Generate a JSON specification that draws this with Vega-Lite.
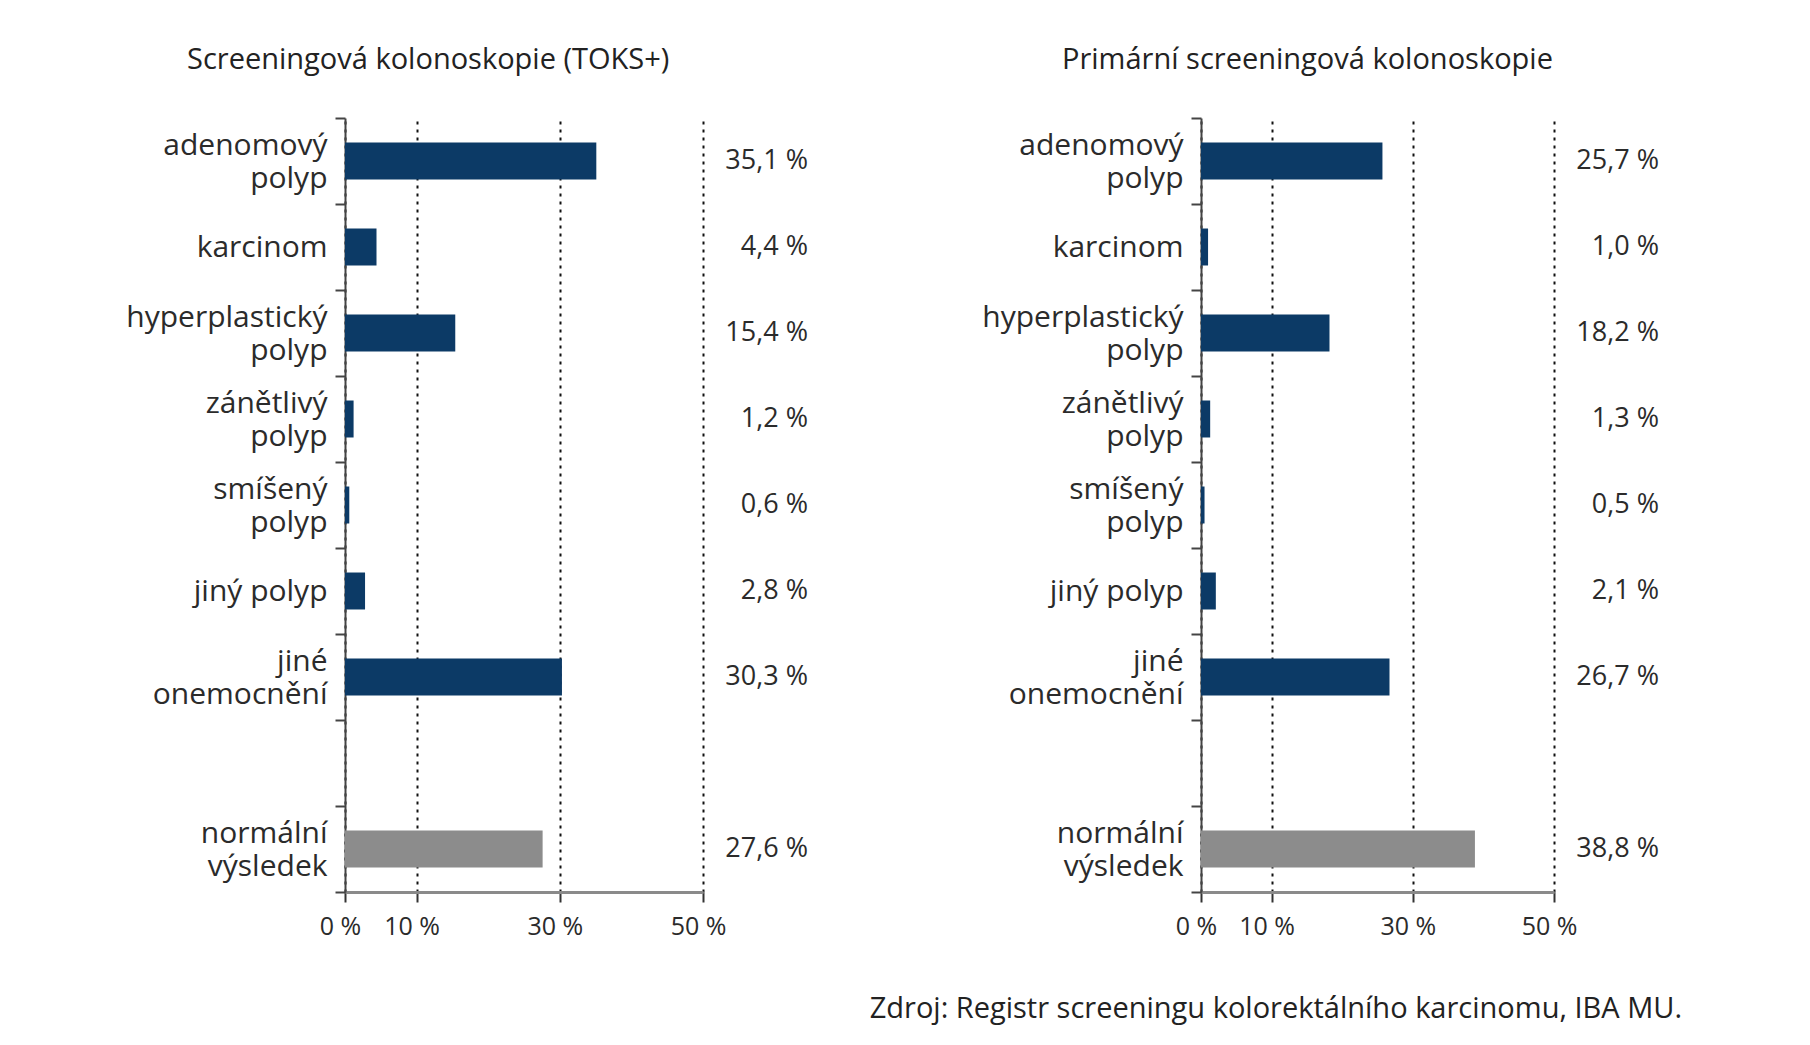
{
  "$schema": "https://vega.github.io/schema/vega-lite/v6.json",
  "background": "white",
  "padding": {"left": 125, "top": 46, "right": 10, "bottom": 10},
  "spacing": 173,
  "config": {
    "locale": {"number": {"decimal": ",", "thousands": " ", "grouping": [3], "currency": ["", " Kč"], "percent": " %"}},
    "font": "Open Sans",
    "view": {"stroke": null},
    "title": {"font": "Open Sans", "fontWeight": "normal", "color": "#222222"}
  },
  "datasets": {
    "toks": [
      {"kategorie": "adenomový polyp", "podil": 0.351, "typ": "nález"},
      {"kategorie": "karcinom", "podil": 0.044, "typ": "nález"},
      {"kategorie": "hyperplastický polyp", "podil": 0.154, "typ": "nález"},
      {"kategorie": "zánětlivý polyp", "podil": 0.012, "typ": "nález"},
      {"kategorie": "smíšený polyp", "podil": 0.006, "typ": "nález"},
      {"kategorie": "jiný polyp", "podil": 0.028, "typ": "nález"},
      {"kategorie": "jiné onemocnění", "podil": 0.303, "typ": "nález"},
      {"kategorie": "normální výsledek", "podil": 0.276, "typ": "normální"}
    ],
    "prim": [
      {"kategorie": "adenomový polyp", "podil": 0.257, "typ": "nález"},
      {"kategorie": "karcinom", "podil": 0.010, "typ": "nález"},
      {"kategorie": "hyperplastický polyp", "podil": 0.182, "typ": "nález"},
      {"kategorie": "zánětlivý polyp", "podil": 0.013, "typ": "nález"},
      {"kategorie": "smíšený polyp", "podil": 0.005, "typ": "nález"},
      {"kategorie": "jiný polyp", "podil": 0.021, "typ": "nález"},
      {"kategorie": "jiné onemocnění", "podil": 0.267, "typ": "nález"},
      {"kategorie": "normální výsledek", "podil": 0.388, "typ": "normální"}
    ]
  },
  "title": {"text": "Zdroj: Registr screeningu kolorektálního karcinomu, IBA MU.", "orient": "bottom", "anchor": "end", "fontSize": 29, "offset": 56, "dx": 23},
  "hconcat": [
    {
      "width": 358, "height": 774,
      "title": {"text": "Screeningová kolonoskopie (TOKS+)", "anchor": "start", "frame": "group", "dx": -158, "offset": 28, "fontSize": 29},
      "data": {"name": "toks"},
      "layer": [
        {
          "mark": {"type": "bar", "height": {"band": 0.43}},
          "encoding": {
            "y": {"field": "kategorie", "type": "nominal", "sort": null,
              "scale": {"domain": ["adenomový polyp", "karcinom", "hyperplastický polyp", "zánětlivý polyp", "smíšený polyp", "jiný polyp", "jiné onemocnění", "gap", "normální výsledek"], "paddingInner": 0, "paddingOuter": 0},
              "axis": {"title": null, "tickBand": "extent", "labelExpr": "datum.label == 'gap' ? '' : (datum.label == 'jiný polyp' ? datum.label : split(datum.label, ' '))", "labelOffset": {"condition": {"test": "indexof(datum.label, ' ') > 0 && datum.label != 'jiný polyp'", "value": -16}, "value": 0}, "labelFontSize": 30, "labelLineHeight": 33, "labelColor": "#2b2b2b", "labelPadding": 8, "labelLimit": 400, "tickSize": 10, "tickWidth": 2, "tickColor": "#444444", "domainColor": "#444444", "domainWidth": 2, "grid": false}},
            "x": {"field": "podil", "type": "quantitative",
              "scale": {"domain": [0, 0.5], "nice": false},
              "axis": {"title": null, "values": [0, 0.1, 0.3, 0.5], "format": ".0%", "labelFlush": false, "labelOffset": -5, "grid": true, "gridDash": [3, 5], "gridColor": "#111111", "gridWidth": 2, "domainColor": "#8a8a8a", "domainWidth": 3, "tickColor": "#333333", "tickWidth": 2, "tickSize": 10, "labelFontSize": 25, "labelColor": "#2b2b2b", "labelPadding": 12}},
            "color": {"field": "typ", "type": "nominal", "scale": {"domain": ["nález", "normální"], "range": ["#0c3a66", "#8c8c8c"]}, "legend": null}
          }
        },
        {
          "mark": {"type": "text", "align": "right", "baseline": "middle", "dx": 105, "fontSize": 27, "color": "#2b2b2b"},
          "encoding": {
            "y": {"field": "kategorie", "type": "nominal", "sort": null},
            "x": {"datum": 0.5, "type": "quantitative"},
            "text": {"field": "podil", "type": "quantitative", "format": ".1%"}
          }
        }
      ]
    },
    {
      "width": 353, "height": 774,
      "title": {"text": "Primární screeningová kolonoskopie", "anchor": "start", "frame": "group", "dx": -139, "offset": 28, "fontSize": 29},
      "data": {"name": "prim"},
      "layer": [
        {
          "mark": {"type": "bar", "height": {"band": 0.43}},
          "encoding": {
            "y": {"field": "kategorie", "type": "nominal", "sort": null,
              "scale": {"domain": ["adenomový polyp", "karcinom", "hyperplastický polyp", "zánětlivý polyp", "smíšený polyp", "jiný polyp", "jiné onemocnění", "gap", "normální výsledek"], "paddingInner": 0, "paddingOuter": 0},
              "axis": {"title": null, "tickBand": "extent", "labelExpr": "datum.label == 'gap' ? '' : (datum.label == 'jiný polyp' ? datum.label : split(datum.label, ' '))", "labelOffset": {"condition": {"test": "indexof(datum.label, ' ') > 0 && datum.label != 'jiný polyp'", "value": -16}, "value": 0}, "labelFontSize": 30, "labelLineHeight": 33, "labelColor": "#2b2b2b", "labelPadding": 8, "labelLimit": 400, "tickSize": 10, "tickWidth": 2, "tickColor": "#444444", "domainColor": "#444444", "domainWidth": 2, "grid": false}},
            "x": {"field": "podil", "type": "quantitative",
              "scale": {"domain": [0, 0.5], "nice": false},
              "axis": {"title": null, "values": [0, 0.1, 0.3, 0.5], "format": ".0%", "labelFlush": false, "labelOffset": -5, "grid": true, "gridDash": [3, 5], "gridColor": "#111111", "gridWidth": 2, "domainColor": "#8a8a8a", "domainWidth": 3, "tickColor": "#333333", "tickWidth": 2, "tickSize": 10, "labelFontSize": 25, "labelColor": "#2b2b2b", "labelPadding": 12}},
            "color": {"field": "typ", "type": "nominal", "scale": {"domain": ["nález", "normální"], "range": ["#0c3a66", "#8c8c8c"]}, "legend": null}
          }
        },
        {
          "mark": {"type": "text", "align": "right", "baseline": "middle", "dx": 105, "fontSize": 27, "color": "#2b2b2b"},
          "encoding": {
            "y": {"field": "kategorie", "type": "nominal", "sort": null},
            "x": {"datum": 0.5, "type": "quantitative"},
            "text": {"field": "podil", "type": "quantitative", "format": ".1%"}
          }
        }
      ]
    }
  ]
}
